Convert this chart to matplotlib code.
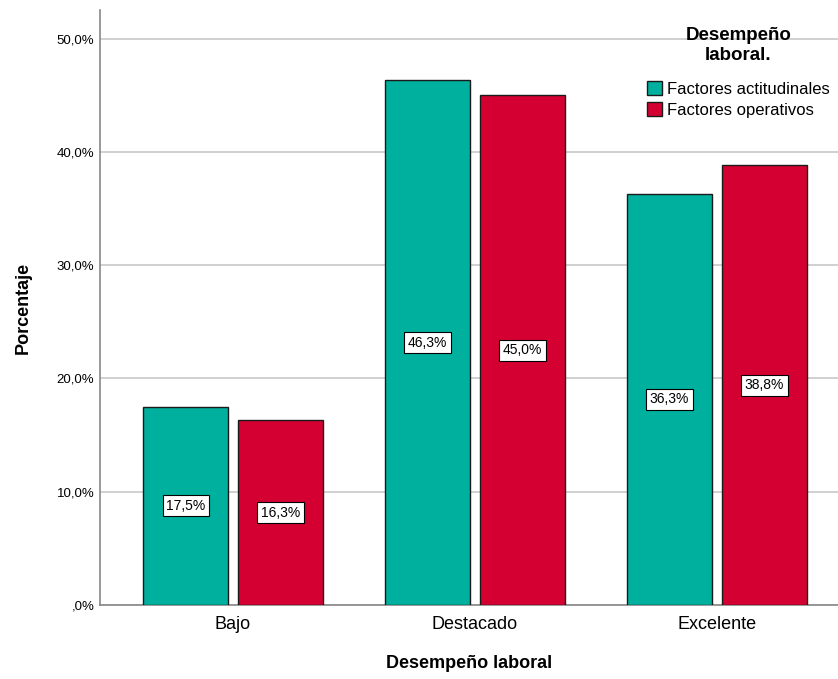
import matplotlib.pyplot as plt
import numpy as np
from matplotlib.patches import Patch

plt.rcParams["font.family"] = ["Liberation Sans", "DejaVu Sans"]

# Datos
categorias = ["Bajo", "Destacado", "Excelente"]
actitudinales = [17.5, 46.3, 36.3]
operativos = [16.3, 45.0, 38.8]
series = ["Factores actitudinales", "Factores operativos"]
colores = ["#00B09E", "#D50032"]

def fmt_pct(v):
    s = f"{v:.1f}".replace(".", ",")
    if s.startswith("0,"):
        s = s[1:]
    return s + "%"

fig = plt.figure(figsize=(8.38, 6.79), dpi=100)
ax = fig.add_axes([0.1193, 0.109, 0.8807, 0.876])

x = np.arange(len(categorias))
ancho = 0.351
sep = 0.196

for vals, col, off in [(actitudinales, colores[0], -sep), (operativos, colores[1], sep)]:
    barras = ax.bar(x + off, vals, width=ancho, color=col, edgecolor="#1a1a1a",
                    linewidth=1.0, zorder=3)
    for b, v in zip(barras, vals):
        ax.text(b.get_x() + b.get_width() / 2, v / 2, fmt_pct(v), ha="center", va="center",
                fontsize=10, zorder=4,
                bbox=dict(boxstyle="square,pad=0.25", facecolor="white", edgecolor="black", linewidth=0.8))

ax.set_ylim(0, 52.5)
ax.set_xlim(-0.55, 2.5)
ax.set_yticks([0, 10, 20, 30, 40, 50])
ax.set_yticklabels([fmt_pct(t) for t in [0, 10, 20, 30, 40, 50]], fontsize=9.5)
ax.set_xticks(x)
ax.set_xticklabels(categorias, fontsize=13)
ax.tick_params(axis="both", length=0, pad=4)
ax.tick_params(axis="x", pad=8)
ax.yaxis.grid(True, color="#c8c8c8", linewidth=1.2, zorder=0)
ax.set_axisbelow(True)

for s in ["top", "right"]:
    ax.spines[s].set_visible(False)
ax.spines["left"].set_color("#888888")
ax.spines["bottom"].set_color("#888888")
ax.spines["left"].set_linewidth(1.2)
ax.spines["bottom"].set_linewidth(1.2)

ax.set_ylabel("Porcentaje", fontsize=13, fontweight="bold", labelpad=18)
ax.set_xlabel("Desempeño laboral", fontsize=13, fontweight="bold", labelpad=16)

manejadores = [Patch(facecolor=c, edgecolor="#1a1a1a", label=l) for c, l in zip(colores, series)]
leg = ax.legend(handles=manejadores, title="Desempeño\nlaboral.", loc="upper right",
                bbox_to_anchor=(0.995, 0.98), frameon=False,
                fontsize=12, title_fontproperties={"weight": "bold", "size": 13.5},
                handlelength=0.9, handleheight=0.9, handletextpad=0.25, labelspacing=0.35,
                borderpad=0.3, borderaxespad=0.0)
leg.get_title().set_multialignment("center")
leg.get_title().set_linespacing(1.25)
leg._legend_box.sep = 12

fig.savefig("out.png", dpi=100)
